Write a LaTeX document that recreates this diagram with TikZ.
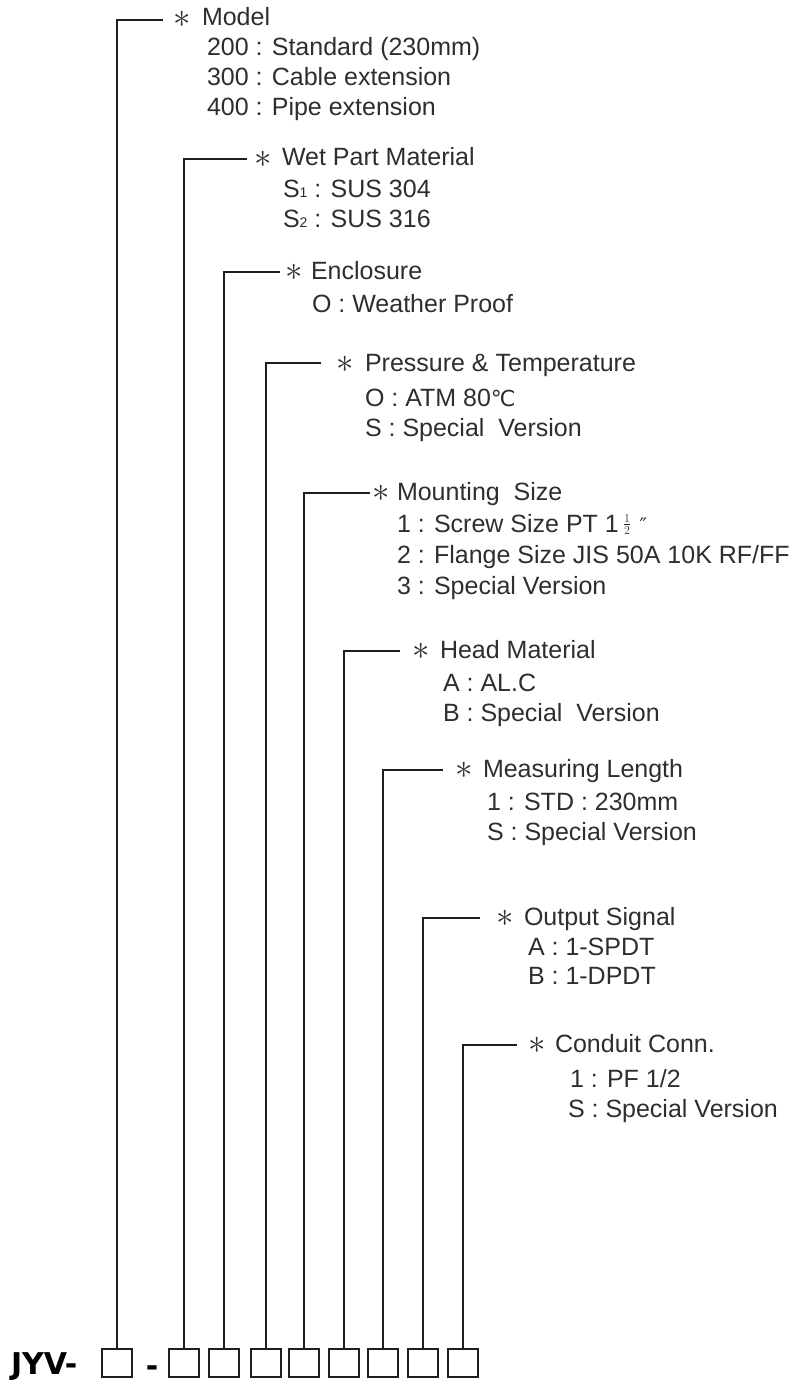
\documentclass[tikz,border=0pt]{standalone}
\usepackage{graphicx}
\usepackage{fontspec}
\setmainfont{Liberation Sans}
\newfontfamily\dejavu{DejaVu Sans}
\definecolor{textgray}{HTML}{2E2E2E}
\definecolor{linegray}{HTML}{1E1E1E}
\newcommand{\subdig}[1]{{\fontsize{14}{14}\selectfont #1}}
\newcommand{\halfinch}{\,{\fontsize{18}{18}\selectfont\raisebox{3pt}[12pt][0pt]{$\frac{1}{2}$}}\,\,{\dejavu\fontsize{20}{20}\selectfont ″}}
\newcommand{\degc}{{\dejavu\fontsize{22}{22}\selectfont ℃}}
\newcommand{\bigast}{\raisebox{-1.5pt}[14pt][0pt]{\scalebox{1.4}{$\ast$}}}
\begin{document}
\begin{tikzpicture}[x=1pt,y=-1pt,
  txt/.style={anchor=base west, inner sep=0pt, outer sep=0pt, text=textgray, font=\fontsize{25}{30}\selectfont},
  astk/.style={anchor=base, inner sep=0pt, outer sep=0pt, text=textgray, font=\fontsize{25}{30}\selectfont},
  codebox/.style={draw=linegray, line width=2pt, minimum width=30pt, minimum height=28pt, inner sep=0pt, outer sep=0pt},
  lead/.style={draw=linegray, line width=1.8pt},
  bigtxt/.style={anchor=base west, inner sep=0pt, outer sep=0pt, text=black, font=\dejavu\bfseries\fontsize{30}{34}\selectfont}]
\useasboundingbox (0,0) rectangle (795,1383);

% code line at the bottom
\node[bigtxt] (jyv) at (11,1374) {JYV-};
\node[codebox] (b1) at (117,1363) {};
\node[bigtxt, anchor=base] (dash) at (152,1376) {-};
\node[codebox] (b2) at (184,1363) {};
\node[codebox] (b3) at (224,1363) {};
\node[codebox] (b4) at (266,1363) {};
\node[codebox] (b5) at (304,1363) {};
\node[codebox] (b6) at (344,1363) {};
\node[codebox] (b7) at (383,1363) {};
\node[codebox] (b8) at (423,1363) {};
\node[codebox] (b9) at (463,1363) {};

% line ends
\coordinate (e1) at (163,20);
\coordinate (e2) at (247,159);
\coordinate (e3) at (280,272);
\coordinate (e4) at (321,363);
\coordinate (e5) at (370,493);
\coordinate (e6) at (400,651);
\coordinate (e7) at (443,770);
\coordinate (e8) at (480,918);
\coordinate (e9) at (517,1045);

\draw[lead] (b1.north) |- (e1);
\draw[lead] (b2.north) |- (e2);
\draw[lead] (b3.north) |- (e3);
\draw[lead] (b4.north) |- (e4);
\draw[lead] (b5.north) |- (e5);
\draw[lead] (b6.north) |- (e6);
\draw[lead] (b7.north) |- (e7);
\draw[lead] (b8.north) |- (e8);
\draw[lead] (b9.north) |- (e9);

% 1 Model
\node[astk] (a1) at (182,26) {\bigast};
\node[txt] (h1) at (202,26) {Model};
\node[txt] (i11) at (207,56) {200 : Standard (230mm)};
\node[txt] (i12) at (207,86) {300 : Cable extension};
\node[txt] (i13) at (207,116) {400 : Pipe extension};

% 2 Wet part material
\node[astk] (a2) at (263,166) {\bigast};
\node[txt] (h2) at (282,166) {Wet Part Material};
\node[txt] (i21) at (283,197) {S\subdig{1} : SUS 304};
\node[txt] (i22) at (283,227) {S\subdig{2} : SUS 316};

% 3 Enclosure
\node[astk] (a3) at (294,279) {\bigast};
\node[txt] (h3) at (311,279) {Enclosure};
\node[txt] (i31) at (312,312) {O : Weather Proof};

% 4 Pressure & Temperature
\node[astk] (a4) at (345,371) {\bigast};
\node[txt] (h4) at (365,371) {Pressure \& Temperature};
\node[txt] (i41) at (365,406) {O : ATM 80\degc};
\node[txt] (i42) at (365,436) {S : Special\ \ Version};

% 5 Mounting size
\node[astk] (a5) at (381,500) {\bigast};
\node[txt] (h5) at (397,500) {Mounting\ \ Size};
\node[txt] (i51) at (397,532) {1 : Screw Size PT 1\halfinch};
\node[txt] (i52) at (397,563) {2 : Flange Size JIS 50A 10K RF/FF};
\node[txt] (i53) at (397,594) {3 : Special Version};

% 6 Head material
\node[astk] (a6) at (421,658) {\bigast};
\node[txt] (h6) at (440,658) {Head Material};
\node[txt] (i61) at (443,691) {A : AL.C};
\node[txt] (i62) at (443,721) {B : Special\ \ Version};

% 7 Measuring length
\node[astk] (a7) at (464,777) {\bigast};
\node[txt] (h7) at (483,777) {Measuring Length};
\node[txt] (i71) at (487,810) {1 : STD : 230mm};
\node[txt] (i72) at (487,840) {S : Special Version};

% 8 Output signal
\node[astk] (a8) at (505,925) {\bigast};
\node[txt] (h8) at (524,925) {Output Signal};
\node[txt] (i81) at (528,955) {A : 1-SPDT};
\node[txt] (i82) at (528,984) {B : 1-DPDT};

% 9 Conduit conn.
\node[astk] (a9) at (537,1052) {\bigast};
\node[txt] (h9) at (555,1052) {Conduit Conn.};
\node[txt] (i91) at (570,1087) {1 : PF 1/2};
\node[txt] (i92) at (568,1117) {S : Special Version};
\end{tikzpicture}
\end{document}
